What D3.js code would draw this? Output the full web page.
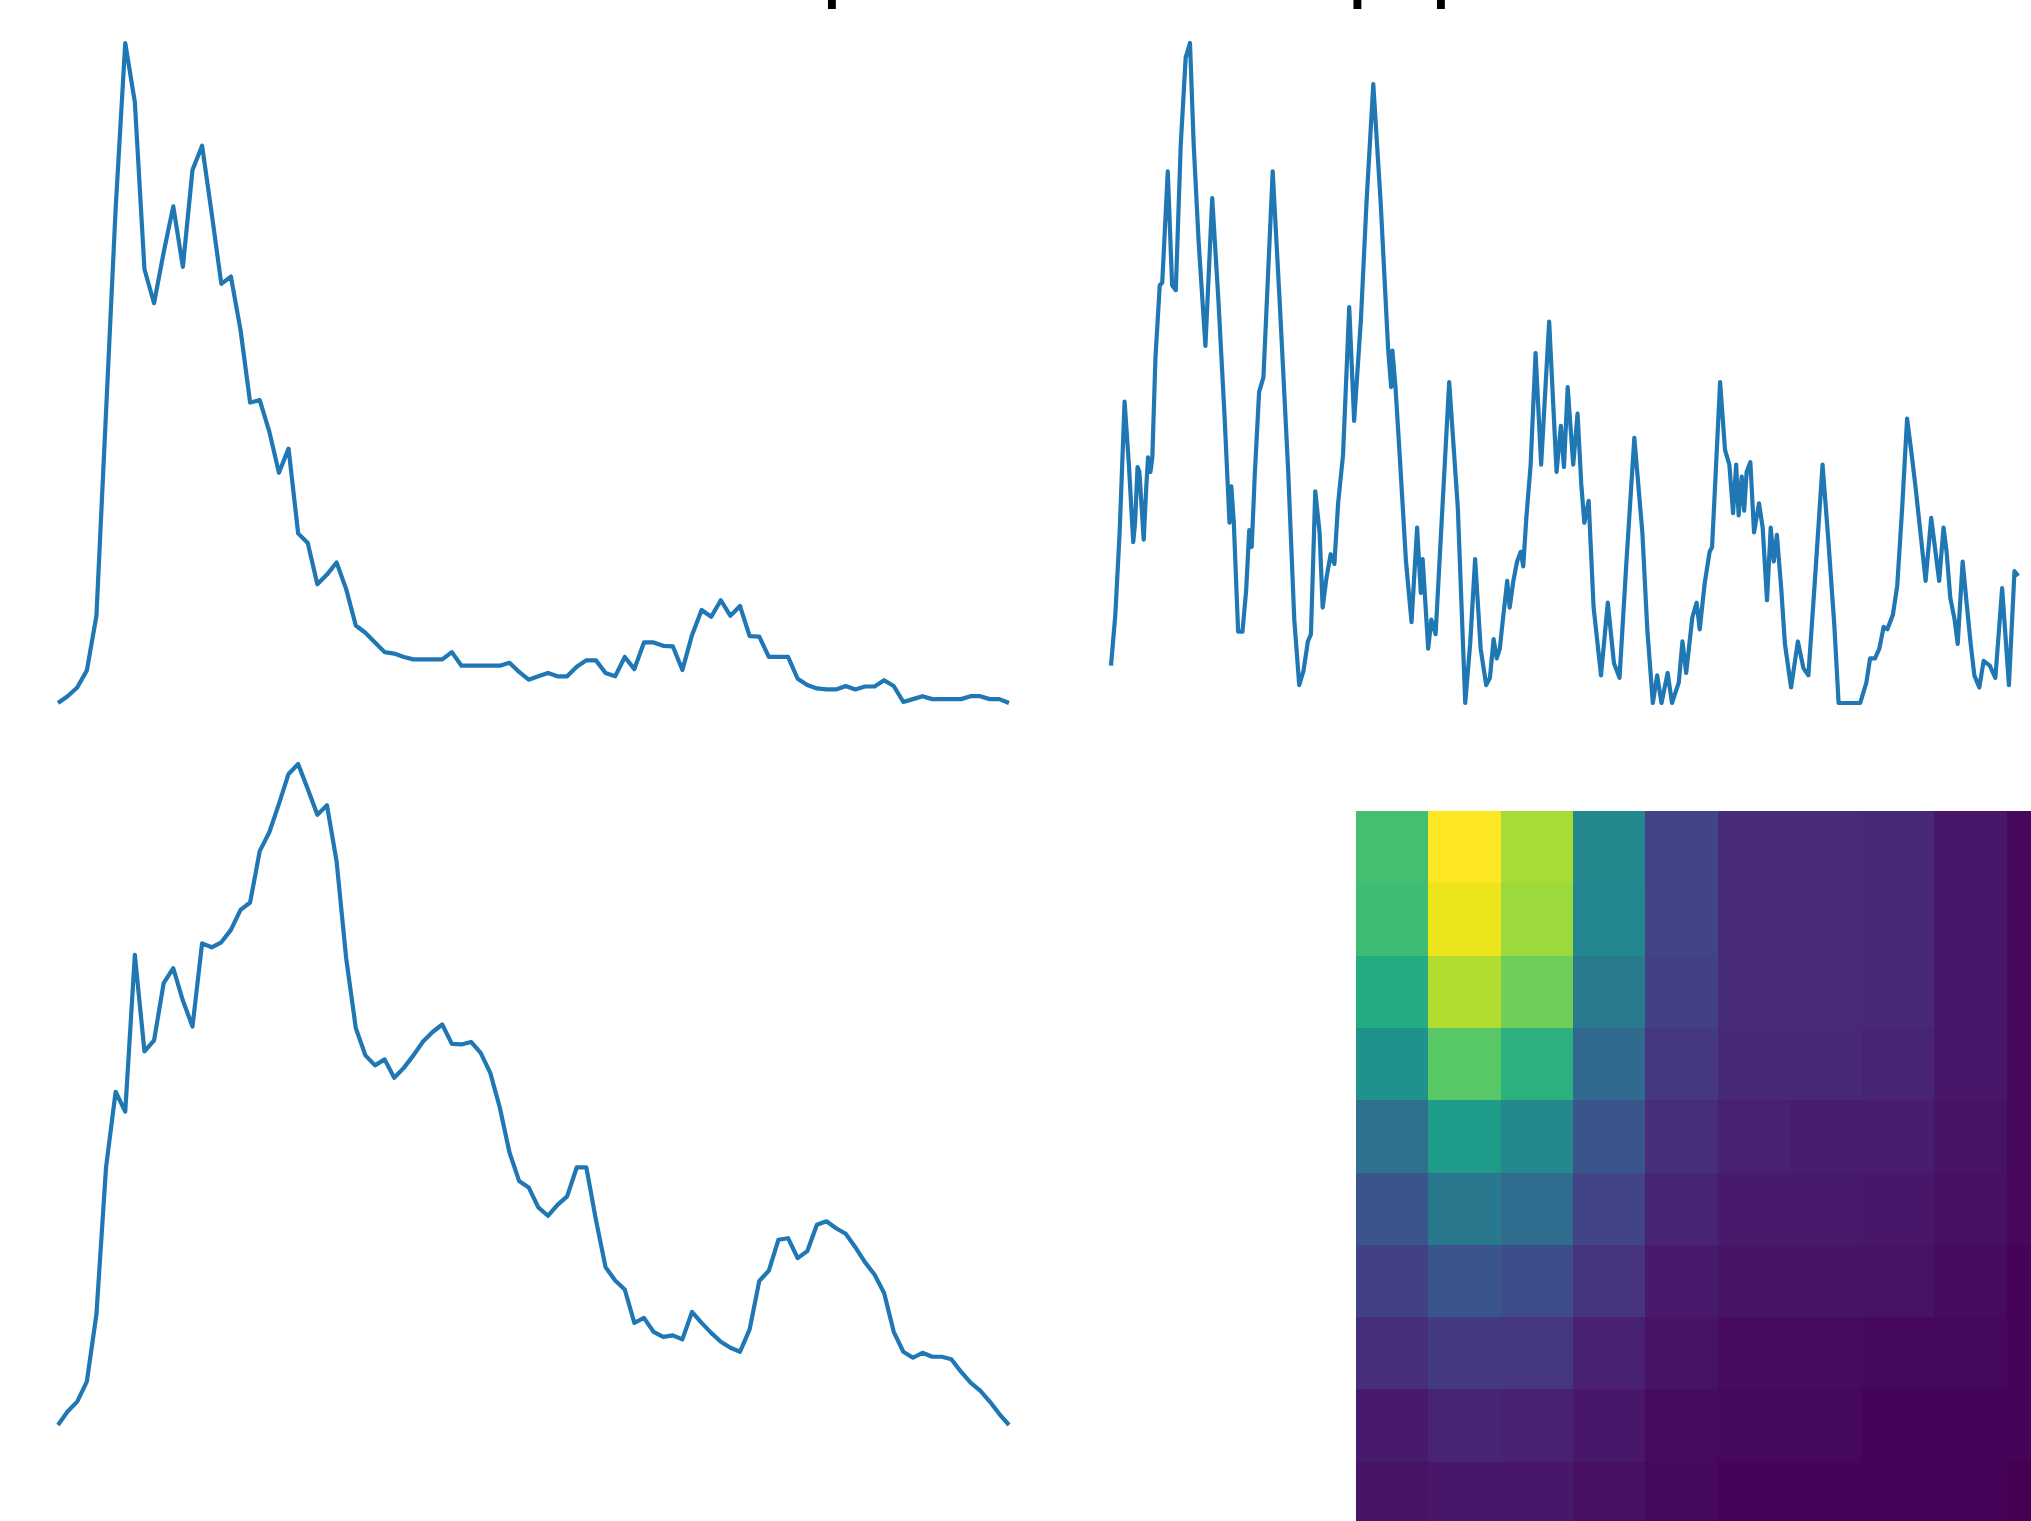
<!DOCTYPE html>
<html>
<head>
<meta charset="utf-8">
<script src="https://cdn.jsdelivr.net/npm/d3@7"></script>
<style>
  body { margin: 0; background: #fff; }
  svg { display: block; }
</style>
</head>
<body>
<script>
var width = 2031,
    height = 1521;

var titleText = "Sample heat map preview";

// top left: ~100 evenly spaced samples
var topLeft = [2, 16, 34, 69, 182, 602, 1022, 1364,
  1242, 897, 827, 932, 1027, 902, 1102, 1152, 1012, 867,
  882, 772, 622, 627, 562, 477, 527, 352, 332, 247,
  267, 292, 237, 162, 147, 127, 107, 104, 97, 92,
  92, 92, 92, 107, 79, 79, 79, 79, 79, 85,
  66, 50, 57, 64, 57, 57, 77, 90, 90, 64,
  57, 97, 72, 127, 127, 120, 119, 70, 142, 194,
  180, 214, 182, 202, 140, 139, 97, 97, 97, 52,
  39, 32, 30, 30, 37, 30, 36, 36, 49, 37,
  4, 10, 16, 10, 10, 10, 10, 16, 16, 10,
  10, 2];

// top right: irregular sample positions, series runs a bit past the frame
var topRightSpan = 1541;
var topRightT = [0, 7, 14, 22, 29, 36, 39, 43, 46, 53, 57, 60, 64, 67, 72, 79, 83, 92, 99, 105,
  113, 121, 128, 134, 142, 153, 164, 174, 184, 192, 195, 199, 206, 213, 219, 224, 228, 233, 240, 247,
  262, 274, 287, 297, 305, 312, 319, 324, 331, 338, 343, 349, 356, 362, 368, 376, 386, 394, 405, 414,
  425, 437, 449, 454, 456, 461, 468, 478, 487, 496, 502, 505, 514, 519, 526, 534, 548, 562, 574, 582,
  590, 599, 608, 614, 620, 625, 630, 635, 642, 646, 652, 658, 664, 668, 673, 680, 688, 697, 710, 722,
  729, 734, 740, 749, 756, 762, 767, 774, 782, 794, 805, 815, 824, 835, 848, 861, 869, 878, 885, 892,
  902, 909, 920, 926, 932, 942, 949, 954, 962, 970, 974, 987, 995, 1002, 1008, 1013, 1017, 1022, 1026, 1030,
  1036, 1042, 1050, 1056, 1063, 1069, 1074, 1079, 1086, 1092, 1102, 1113, 1122, 1130, 1140, 1153, 1162, 1172, 1179, 1214,
  1224, 1230, 1238, 1245, 1252, 1258, 1267, 1274, 1282, 1290, 1297, 1304, 1312, 1320, 1329, 1335, 1342, 1349, 1354, 1360,
  1367, 1372, 1380, 1386, 1393, 1399, 1407, 1414, 1424, 1433, 1444, 1455, 1464, 1470];
var topRightV = [77, 182, 352, 622, 492, 332, 372, 487, 477, 337, 442, 507, 477, 507, 712, 862, 867, 1097, 862, 852,
  1152, 1332, 1362, 1152, 952, 737, 1042, 832, 592, 372, 447, 372, 147, 147, 232, 357, 322, 472, 642, 672,
  1097, 812, 482, 172, 37, 67, 127, 142, 437, 352, 197, 257, 307, 287, 412, 512, 817, 582, 792, 1032,
  1277, 1032, 732, 652, 727, 652, 507, 292, 167, 362, 227, 297, 112, 172, 142, 332, 662, 402, 0, 122,
  297, 112, 37, 52, 132, 92, 112, 172, 252, 197, 252, 292, 312, 282, 382, 492, 722, 492, 787, 477,
  572, 487, 652, 492, 597, 452, 372, 417, 197, 57, 207, 82, 52, 287, 547, 352, 152, 0, 57, 0,
  62, 0, 42, 127, 62, 177, 207, 152, 247, 312, 322, 662, 522, 492, 392, 492, 387, 467, 397, 477,
  497, 352, 412, 362, 212, 362, 292, 347, 237, 122, 32, 127, 72, 57, 242, 492, 342, 162, 0, 0,
  42, 92, 92, 112, 157, 152, 182, 242, 402, 587, 517, 442, 347, 252, 382, 322, 252, 362, 312, 217,
  172, 122, 292, 212, 122, 57, 32, 87, 77, 52, 237, 37, 272, 262];

// bottom left: ~100 evenly spaced samples
var bottomLeft = [0, 27, 47, 87, 222, 517, 669, 629, 944, 750,
  772, 887, 917, 852, 800, 967, 959, 969, 994, 1034,
  1049, 1152, 1190, 1247, 1307, 1327, 1277, 1225, 1244, 1132,
  937, 797, 742, 722, 734, 697, 717, 742, 770, 789,
  804, 765, 764, 769, 747, 707, 637, 547, 490, 477,
  437, 420, 442, 459, 517, 517, 412, 317, 290, 272,
  205, 215, 187, 177, 180, 172, 227, 205, 185, 167,
  155, 147, 192, 289, 310, 372, 375, 335, 349, 402,
  409, 395, 384, 357, 327, 302, 265, 187, 147, 135,
  145, 137, 137, 132, 107, 85, 69, 47, 22, 0];

// heatmap cells, rows top to bottom (0..1 on viridis)
var heatRows = [
  [0.70, 1.00, 0.87, 0.47, 0.20, 0.12, 0.12, 0.11, 0.06, 0.02],
  [0.69, 0.97, 0.85, 0.46, 0.20, 0.12, 0.12, 0.11, 0.06, 0.02],
  [0.61, 0.88, 0.78, 0.41, 0.19, 0.12, 0.12, 0.11, 0.06, 0.02],
  [0.51, 0.74, 0.64, 0.34, 0.16, 0.11, 0.11, 0.10, 0.06, 0.02],
  [0.37, 0.55, 0.47, 0.26, 0.13, 0.09, 0.08, 0.08, 0.05, 0.02],
  [0.26, 0.40, 0.35, 0.20, 0.10, 0.07, 0.07, 0.06, 0.04, 0.02],
  [0.19, 0.26, 0.23, 0.15, 0.07, 0.05, 0.05, 0.05, 0.03, 0.01],
  [0.13, 0.17, 0.16, 0.09, 0.05, 0.03, 0.03, 0.02, 0.02, 0.01],
  [0.07, 0.10, 0.09, 0.06, 0.03, 0.02, 0.02, 0.01, 0.01, 0.01],
  [0.05, 0.06, 0.06, 0.04, 0.02, 0.01, 0.01, 0.01, 0.01, 0.00]
];

var lineColor = "#1f77b4";

var svg = d3.select("body").append("svg")
  .attr("width", width)
  .attr("height", height);

svg.append("rect")
  .attr("width", width)
  .attr("height", height)
  .attr("fill", "#fff");

// line panels, no axes; data extent fills the box like autoscaled axes
function linePanel(xs, ys, xDomain, box) {
  var x = d3.scaleLinear().domain(xDomain).range([box.x0, box.x1]);
  var y = d3.scaleLinear().domain(d3.extent(ys)).range([box.y0, box.y1]);

  var line = d3.line()
    .x(function (d, i) { return x(xs[i]); })
    .y(function (d) { return y(d); });

  svg.append("path")
    .datum(ys)
    .attr("d", line)
    .attr("fill", "none")
    .attr("stroke", lineColor)
    .attr("stroke-width", 4.2)
    .attr("stroke-linejoin", "round")
    .attr("stroke-linecap", "butt");
}

linePanel(d3.range(topLeft.length), topLeft, [0, topLeft.length - 1],
  { x0: 58, x1: 1009, y0: 703, y1: 43 });

linePanel(topRightT, topRightV, [0, topRightSpan],
  { x0: 1111, x1: 2062, y0: 703, y1: 43 });

linePanel(d3.range(bottomLeft.length), bottomLeft, [0, bottomLeft.length - 1],
  { x0: 58, x1: 1009, y0: 1425, y1: 764 });

// heatmap
var cell = 72.3,
    nCols = heatRows[0].length,
    nRows = heatRows.length;

var hx = d3.scaleBand().domain(d3.range(nCols)).range([1356, 1356 + cell * nCols]);
var hy = d3.scaleBand().domain(d3.range(nRows)).range([811, 811 + cell * nRows]);
var color = d3.scaleSequential(d3.interpolateViridis).domain([0, 1]);

var cells = [];
heatRows.forEach(function (row, r) {
  row.forEach(function (v, c) { cells.push({ r: r, c: c, v: v }); });
});

svg.append("g")
  .attr("shape-rendering", "crispEdges")
  .selectAll("rect")
  .data(cells)
  .join("rect")
    .attr("x", function (d) { return hx(d.c); })
    .attr("y", function (d) { return hy(d.r); })
    .attr("width", hx.bandwidth() + 1)
    .attr("height", hy.bandwidth() + 1)
    .attr("fill", function (d) { return color(d.v); });

// title sits mostly above the frame, only the descenders show
var title = svg.append("text")
  .attr("font-family", "DejaVu Sans")
  .attr("font-size", 100)
  .attr("x", 0)
  .attr("y", 100)
  .attr("fill", "#000")
  .text(titleText);

var node = title.node();
var i1 = titleText.indexOf("p"),
    i3 = titleText.lastIndexOf("p");
var span = node.getStartPositionOfChar(i3).x - node.getStartPositionOfChar(i1).x;
var fs = 100 * (1441 - 832) / span;
title.attr("font-size", fs);
var p1x = node.getStartPositionOfChar(i1).x;
title
  .attr("x", 832 - 0.136 * fs - p1x)
  .attr("y", 9 - 0.208 * fs);
</script>
</body>
</html>
